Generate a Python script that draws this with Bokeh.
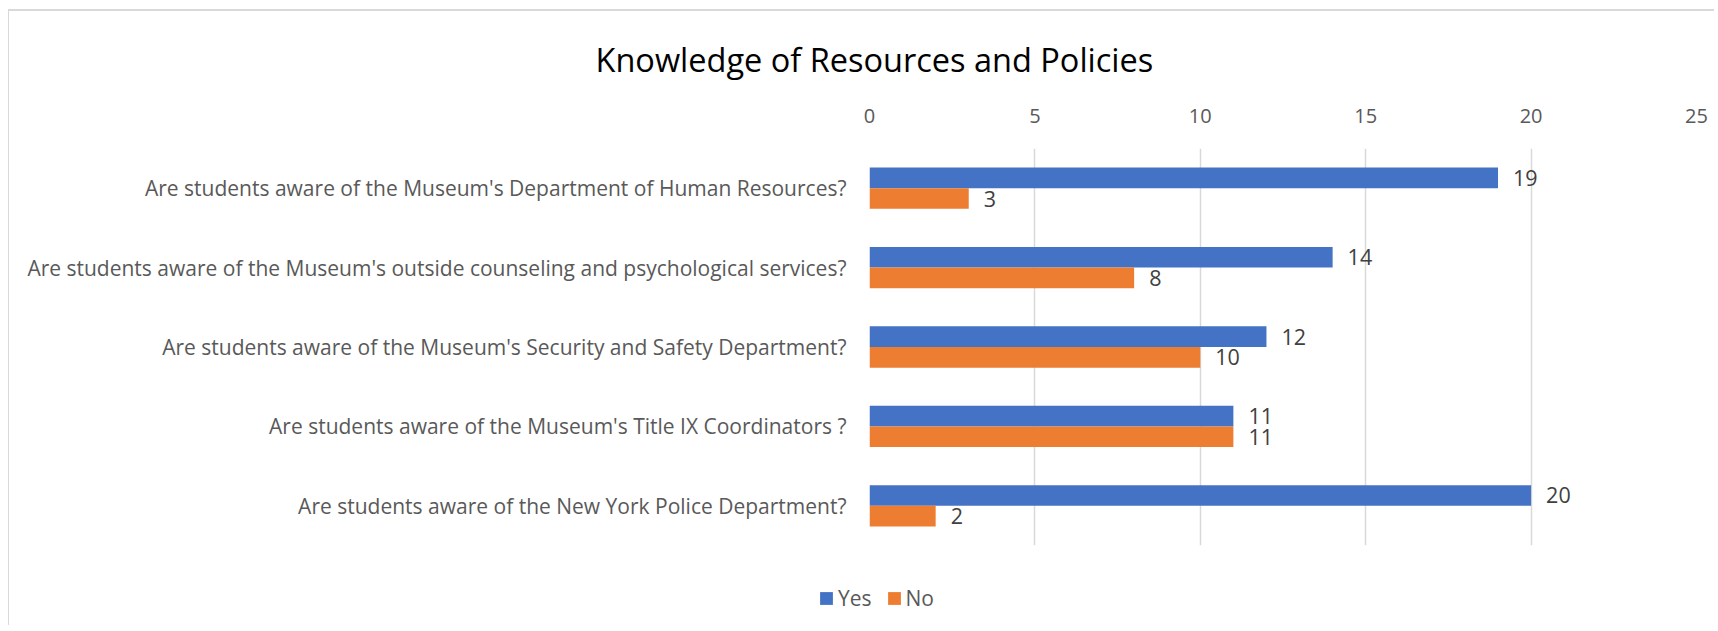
from bokeh.plotting import figure
from bokeh.layouts import column
from bokeh.models import FactorRange, Range1d, Legend, LegendItem, ColumnDataSource, FixedTicker
from bokeh.transform import dodge
from bokeh.embed import file_html
from bokeh.resources import INLINE
from bokeh.core.properties import value

# ---- data ----
questions = [
    "Are students aware of the Museum's Department of Human Resources?",
    "Are students aware of the Museum's outside counseling and psychological services?",
    "Are students aware of the Museum's Security and Safety Department?",
    "Are students aware of the Museum's Title IX Coordinators ?",
    "Are students aware of the New York Police Department?",
]
yes_counts = [19, 14, 12, 11, 20]
no_counts = [3, 8, 10, 11, 2]
series_names = ["Yes", "No"]
x_ticks = [0, 5, 10, 15, 20, 25]
chart_title = "Knowledge of Resources and Policies"

# ---- styles ----
FONT = "Open Sans"
YES_COLOR = "#4472C4"
NO_COLOR = "#ED7D31"
GRID = "#d9d9d9"
LABEL_GRAY = "#595959"
colors = [YES_COLOR, NO_COLOR]
value_cols = ["yes", "no"]

src = ColumnDataSource(dict(
    q=questions,
    yes=yes_counts,
    no=no_counts,
    yes_txt=[str(v) for v in yes_counts],
    no_txt=[str(v) for v in no_counts],
))

p = figure(
    width=1705, height=544,
    y_range=FactorRange(*reversed(questions)),
    x_range=Range1d(0, 25),
    x_axis_location="above",
    output_backend="svg", toolbar_location=None,
    min_border_left=860, min_border_right=18,
    min_border_top=131, min_border_bottom=10,
)
p.outline_line_color = None
p.background_fill_color = "white"
p.border_fill_color = "white"

# title
p.title.text = chart_title
p.title.align = "left"
p.title.offset = -274
p.title.standoff = 47
p.title.text_font = FONT
p.title.text_font_size = "32.5px"
p.title.text_font_style = "normal"
p.title.text_color = "#000000"

off = 0.13
bh = 0.26
r_yes = p.hbar(y=dodge("q", off, range=p.y_range), left=0, right="yes", height=bh,
               source=src, fill_color=YES_COLOR, line_color=None)
r_no = p.hbar(y=dodge("q", -off, range=p.y_range), left=0, right="no", height=bh,
              source=src, fill_color=NO_COLOR, line_color=None)

for col, txt, o in (("yes", "yes_txt", off), ("no", "no_txt", -off)):
    p.text(x=col, y=dodge("q", o, range=p.y_range), text=txt, source=src,
           x_offset=15, text_baseline="middle", text_align="left",
           text_font=value(FONT), text_font_size="21.5px", text_color="#404040")

# axes
p.xaxis.ticker = FixedTicker(ticks=x_ticks)
p.xaxis.axis_line_color = None
p.xaxis.major_tick_line_color = None
p.xaxis.minor_tick_line_color = None
p.xaxis.major_label_text_font = FONT
p.xaxis.major_label_text_font_size = "20px"
p.xaxis.major_label_text_color = LABEL_GRAY
p.xaxis.major_label_standoff = 20

p.yaxis.axis_line_color = None
p.yaxis.major_tick_line_color = None
p.yaxis.minor_tick_line_color = None
p.yaxis.major_tick_out = 0
p.yaxis.major_tick_in = 0
p.yaxis.major_label_text_font = FONT
p.yaxis.major_label_text_font_size = "21px"
p.yaxis.major_label_text_color = LABEL_GRAY
p.yaxis.major_label_standoff = 23

p.xgrid.ticker = FixedTicker(ticks=x_ticks)
p.xgrid.grid_line_color = GRID
p.xgrid.grid_line_width = 1.5
p.ygrid.grid_line_color = None

# ---- legend strip below the chart (its bars have zero height and lie outside its range) ----
pl = figure(
    width=1705, height=70,
    x_range=Range1d(100, 101), y_range=FactorRange(*reversed(questions)),
    x_axis_location=None, y_axis_location=None,
    output_backend="svg", toolbar_location=None,
    min_border_left=809, min_border_right=0,
    min_border_top=15, min_border_bottom=0,
)
if "frame_align" in pl.properties():
    pl.frame_align = False
    p.frame_align = False
pl.outline_line_color = None
pl.grid.visible = False
pl.title.visible = False
leg_rs = [pl.hbar(y="q", left=0, right=vc, height=0, source=src,
                  fill_color=c, line_color=None)
          for vc, c in zip(value_cols, colors)]

legend = Legend(
    items=[LegendItem(label=n, renderers=[r]) for n, r in zip(series_names, leg_rs)],
    orientation="horizontal", location="left",
    glyph_width=16, glyph_height=16, label_standoff=4, spacing=14,
    padding=0, margin=0, border_line_color=None, background_fill_alpha=0,
    label_text_font=FONT, label_text_font_size="21px", label_text_color=LABEL_GRAY,
)
pl.add_layout(legend, "center")

layout = column(p, pl, spacing=0)
layout.styles = {"margin-left": "8px", "margin-top": "9px",
                 "border-left": "1px solid #d9d9d9", "border-top": "2px solid #d9d9d9"}

open("out.html", "w").write(file_html(layout, INLINE))
